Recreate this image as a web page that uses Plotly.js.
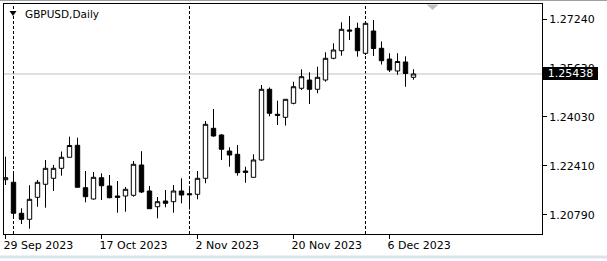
<!DOCTYPE html>
<html>
<head>
<meta charset="utf-8">
<script src="https://cdn.plot.ly/plotly-3.0.1.min.js"></script>
<style>
  html, body { margin: 0; padding: 0; background: #ffffff; }
  #chart { width: 607px; height: 261px; }
</style>
</head>
<body>
<div id="chart"></div>
<script>
// ---- data (GBPUSD, Daily) ----
const dates = [
  "2023-09-29",
  "2023-10-02","2023-10-03","2023-10-04","2023-10-05","2023-10-06",
  "2023-10-09","2023-10-10","2023-10-11","2023-10-12","2023-10-13",
  "2023-10-16","2023-10-17","2023-10-18","2023-10-19","2023-10-20",
  "2023-10-23","2023-10-24","2023-10-25","2023-10-26","2023-10-27",
  "2023-10-30","2023-10-31",
  "2023-11-01","2023-11-02","2023-11-03",
  "2023-11-06","2023-11-07","2023-11-08","2023-11-09","2023-11-10",
  "2023-11-13","2023-11-14","2023-11-15","2023-11-16","2023-11-17",
  "2023-11-20","2023-11-21","2023-11-22","2023-11-23","2023-11-24",
  "2023-11-27","2023-11-28","2023-11-29","2023-11-30",
  "2023-12-01",
  "2023-12-04","2023-12-05","2023-12-06","2023-12-07","2023-12-08",
  "2023-12-11"
];
const open = [
  1.21953,
  1.21868,1.20846,1.20648,1.21373,1.21802,
  1.21999,1.22329,1.22692,1.23087,1.21690,
  1.21317,1.22019,1.21746,1.21416,1.21416,
  1.21439,1.22438,1.21581,1.21063,1.21251,
  1.21228,1.21581,
  1.21492,1.21472,1.21999,
  1.23647,1.23427,1.22899,1.22790,1.22240,
  1.22032,1.22603,1.24933,1.24109,1.24010,
  1.24471,1.24966,1.25239,1.24933,1.25239,
  1.25955,1.26205,1.26887,1.26943,
  1.26119,
  1.26854,1.26284,1.25931,1.25536,1.25833,
  1.25328
];
const high = [
  1.22711,
  1.22197,1.21011,1.21769,1.21943,1.22603,
  1.22438,1.22883,1.23371,1.23338,1.22240,
  1.22207,1.22164,1.22108,1.21910,1.21713,
  1.22570,1.22893,1.21746,1.21383,1.21614,
  1.21779,1.21999,
  1.21750,1.22240,1.23888,
  1.24283,1.23460,1.23021,1.23097,1.22382,
  1.22790,1.25075,1.24992,1.24557,1.24603,
  1.25183,1.25592,1.25493,1.25678,1.26152,
  1.26449,1.27141,1.27349,1.27128,
  1.27161,
  1.27217,1.26508,1.26123,1.26123,1.26020,
  1.25595
];
const low = [
  1.21779,
  1.20757,1.20493,1.20338,1.21063,1.21030,
  1.21581,1.22085,1.22692,1.21697,1.21208,
  1.21300,1.21284,1.21340,1.20866,1.20899,
  1.21393,1.21515,1.20997,1.20681,1.21044,
  1.20866,1.21175,
  1.20970,1.21307,1.21835,
  1.23371,1.22603,1.22382,1.22085,1.21854,
  1.22032,1.22580,1.24043,1.23756,1.23740,
  1.24438,1.24910,1.24448,1.24801,1.25183,
  1.25922,1.26040,1.26558,1.26007,
  1.26063,
  1.26030,1.25750,1.25503,1.25414,1.25018,
  1.25249
];
const close = [
  1.22019,
  1.20846,1.20648,1.21307,1.21868,1.22329,
  1.22329,1.22692,1.23080,1.21703,1.21393,
  1.22032,1.21755,1.21360,1.21373,1.21637,
  1.22461,1.21548,1.20997,1.21228,1.21175,
  1.21581,1.21449,
  1.21459,1.21999,1.23779,
  1.23394,1.22955,1.22767,1.22184,1.22197,
  1.22603,1.24933,1.24142,1.24076,1.24603,
  1.25018,1.25348,1.24933,1.25328,1.25955,
  1.26228,1.26910,1.26854,1.26205,
  1.27108,
  1.26278,1.25875,1.25569,1.25849,1.25454,
  1.25438
];
const priceTicks = [1.27240, 1.25630, 1.24030, 1.22410, 1.20790];
const tickDates = ["2023-09-29","2023-10-17","2023-11-02","2023-11-20","2023-12-06"];
const tickLabels = ["29 Sep 2023","17 Oct 2023","2 Nov 2023","20 Nov 2023","6 Dec 2023"];
const symbolTitle = "GBPUSD,Daily";

// ---- build ----
const idx = dates.map((d, i) => i);
const tickIdx = tickDates.map(d => dates.indexOf(d));
// month separators: first bar of each new month
const sepIdx = [];
for (let i = 1; i < dates.length; i++) {
  if (dates[i].slice(0, 7) !== dates[i - 1].slice(0, 7)) sepIdx.push(i);
}
const lastClose = close[close.length - 1];

// plot area pixel helpers for decorations
const L = 4, T = 4, W = 538, H = 230;
const px = p => (p - L) / W;
const py = p => (T + H - p) / H;

const FONT = "DejaVu Sans, Verdana, sans-serif";

const trace = {
  type: "candlestick",
  x: idx, open: open, high: high, low: low, close: close,
  increasing: { line: { color: "#000000", width: 1 }, fillcolor: "#ffffff" },
  decreasing: { line: { color: "#000000", width: 1 }, fillcolor: "#000000" },
  whiskerwidth: 0,
  hoverinfo: "skip"
};

const shapes = [];
sepIdx.forEach(i => shapes.push({
  type: "line", xref: "x", yref: "paper", x0: i, x1: i, y0: 0, y1: 1,
  line: { color: "#000000", width: 1, dash: "3px,2px" }, layer: "below"
}));
shapes.push({
  type: "line", xref: "paper", yref: "y", x0: 0, x1: 1, y0: lastClose, y1: lastClose,
  line: { color: "#c0c0c0", width: 1 }, layer: "below"
});
// symbol menu triangle (top-left)
shapes.push({
  type: "path", xref: "paper", yref: "paper",
  path: `M ${px(9.5)} ${py(11)} L ${px(16.5)} ${py(11)} L ${px(13)} ${py(16)} Z`,
  fillcolor: "#000000", line: { width: 0 }
});
// chart shift marker (top)
shapes.push({
  type: "path", xref: "paper", yref: "paper",
  path: `M ${px(426.5)} ${py(4.5)} L ${px(438.5)} ${py(4.5)} L ${px(432.5)} ${py(10)} Z`,
  fillcolor: "#c0c0c0", line: { width: 0 }
});
// window frame lines
shapes.push({
  type: "line", xref: "paper", yref: "paper", x0: px(0), x1: px(607), y0: py(0.5), y1: py(0.5),
  line: { color: "#a0a0a0", width: 1 }
});
shapes.push({
  type: "line", xref: "paper", yref: "paper", x0: px(0), x1: px(607), y0: py(257), y1: py(257),
  line: { color: "#dbe4ee", width: 3 }
});

const annotations = [
  {
    xref: "paper", yref: "paper", x: px(23), y: py(14.5), xanchor: "left", yanchor: "middle",
    text: symbolTitle, showarrow: false, font: { family: FONT, size: 10.5, color: "#000000" }
  },
  {
    xref: "paper", yref: "y", x: 1, y: lastClose, xanchor: "left", yanchor: "middle", xshift: 1,
    text: lastClose.toFixed(5), showarrow: false, bgcolor: "#000000",
    font: { family: FONT, size: 11, color: "#ffffff" },
    width: 51, height: 9, borderpad: 1, borderwidth: 1, bordercolor: "#000000", align: "center"
  }
];

const yTop = 1.2724 + 15.3 / 3034;
const yBot = 1.2724 - 214.7 / 3034;

const layout = {
  width: 607, height: 261,
  margin: { l: L, r: 607 - L - W, t: T, b: 261 - T - H, pad: 0 },
  paper_bgcolor: "#ffffff", plot_bgcolor: "#ffffff",
  showlegend: false,
  boxgap: 0.45, boxgroupgap: 0,
  hovermode: false,
  font: { family: FONT, size: 11, color: "#000000" },
  xaxis: {
    type: "linear", range: [-0.1875, -0.1875 + W / 8],
    tickmode: "array", tickvals: tickIdx, ticktext: tickLabels,
    ticks: "outside", ticklen: 4, tickcolor: "#000000", tickwidth: 1,
    ticklabelposition: "outside right", ticklabelshift: -3, ticklabelstandoff: 1,
    showline: true, mirror: true, linecolor: "#000000", linewidth: 1,
    showgrid: false, zeroline: false,
    rangeslider: { visible: false }, fixedrange: true,
    tickfont: { family: FONT, size: 11, color: "#000000" }
  },
  yaxis: {
    side: "right", range: [yBot, yTop],
    tickmode: "array", tickvals: priceTicks, ticktext: priceTicks.map(v => v.toFixed(5)),
    ticks: "outside", ticklen: 4, tickcolor: "#000000", tickwidth: 1,
    showline: true, mirror: true, linecolor: "#000000", linewidth: 1,
    showgrid: false, zeroline: false, fixedrange: true,
    tickfont: { family: FONT, size: 11, color: "#000000" }
  },
  shapes: shapes,
  annotations: annotations
};

Plotly.newPlot("chart", [trace], layout, { displayModeBar: false, staticPlot: true });
</script>
</body>
</html>
